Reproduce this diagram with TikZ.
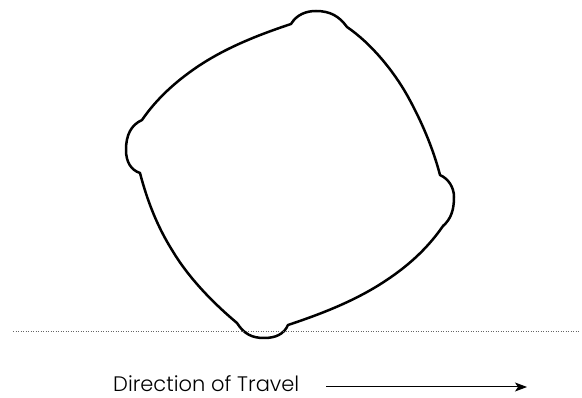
\documentclass[tikz,border=0pt]{standalone}
\usepackage{fontspec}
\setmainfont[UprightFont=* Light]{Poppins}
\usetikzlibrary{arrows.meta}
\tikzset{
  outline/.style={line width=2.5pt,line join=round,black},
  ground/.style={line width=0.8pt,black!60,dash pattern=on 1pt off 1.5pt},
  travel/.style={line width=1pt,black,-{Stealth[length=12pt,width=9pt,inset=3pt]}},
  caption/.style={inner sep=0pt,anchor=base west,font=\fontsize{21pt}{24pt}\selectfont}
}
\begin{document}
\begin{tikzpicture}[x=1pt,y=-1pt]
\useasboundingbox (0,0) rectangle (582,398);
\draw[outline]
  (291,24) .. controls (297,14) and (307,11) .. (316,11)
  .. controls (330,11) and (339,16) .. (347,27)
  .. controls (372,44) and (394,72) .. (407,95)
  .. controls (421,120) and (433,148) .. (440,175)
  .. controls (449,179) and (454,188) .. (454,197)
  .. controls (454,210) and (451,219) .. (443,226)
  .. controls (425,252) and (403,270) .. (379,285)
  .. controls (350,303) and (318,315) .. (288,325)
  .. controls (284,334) and (276,338) .. (264,338)
  .. controls (252,338) and (244,334) .. (237,323)
  .. controls (212,302) and (188,277) .. (172,250)
  .. controls (157,226) and (147,200) .. (140,173)
  .. controls (131,170) and (126,162) .. (126,150)
  .. controls (126,135) and (131,125) .. (142,120)
  .. controls (155,101) and (172,85) .. (190,72)
  .. controls (220,50) and (255,36) .. (291,24) -- cycle;
\coordinate (gl) at (13,331);
\coordinate (gr) at (580,331);
\draw[ground] (gl) -- (gr);
\node[caption] (cap) at (113,391.5) {Direction of Travel};
\coordinate (as) at (326,387);
\coordinate (ae) at (527,387);
\draw[travel] (as) -- (ae);
\end{tikzpicture}
\end{document}
